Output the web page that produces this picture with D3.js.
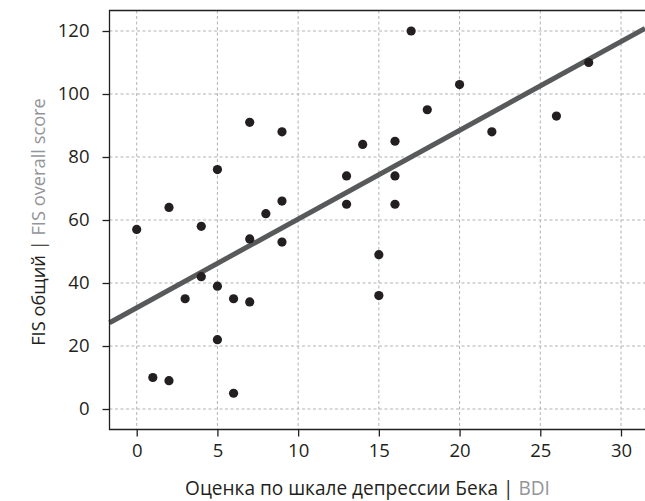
<!DOCTYPE html>
<html>
<head>
<meta charset="utf-8">
<script src="https://cdn.jsdelivr.net/npm/d3@7"></script>
<style>
  body { margin: 0; background: #fff; }
  svg { display: block; font-family: "Open Sans", sans-serif; }
</style>
</head>
<body>
<div id="chart"></div>
<script>
// BDI score vs FIS overall score, one entry per patient
const bdiScores = [0, 1, 2, 2, 3, 4, 4, 5, 5, 5, 6, 6, 7, 7, 7, 8, 9, 9, 9,
                   13, 13, 14, 15, 15, 16, 16, 16, 17, 18, 20, 22, 26, 28];
const fisScores = [57, 10, 64, 9, 35, 58, 42, 76, 39, 22, 35, 5, 91, 54, 34, 62, 88, 66, 53,
                   74, 65, 84, 49, 36, 85, 74, 65, 120, 95, 103, 88, 93, 110];

const xTicks = [0, 5, 10, 15, 20, 25, 30];
const yTicks = [0, 20, 40, 60, 80, 100, 120];

const width = 645;
const height = 501;

const svg = d3.select("#chart")
    .append("svg")
    .attr("width", width)
    .attr("height", height);

// scales: tick 0..30 sits at 136.7..621, 0..120 at 409..31
const x = d3.scaleLinear().domain([0, 30]).range([136.7, 621]);
const y = d3.scaleLinear().domain([0, 120]).range([409, 31]);

// plot box (the right side runs off the picture)
const boxLeft = 109.5, boxRight = 645, boxTop = 10.5, boxBottom = 429.5;

// grid
svg.append("g")
    .selectAll("line")
    .data(xTicks)
    .enter()
    .append("line")
    .attr("x1", d => x(d)).attr("x2", d => x(d))
    .attr("y1", boxTop).attr("y2", boxBottom)
    .attr("stroke", "#b3b3b3")
    .attr("stroke-width", 1)
    .attr("stroke-dasharray", "3,2.5");

svg.append("g")
    .selectAll("line")
    .data(yTicks)
    .enter()
    .append("line")
    .attr("x1", boxLeft).attr("x2", boxRight)
    .attr("y1", d => y(d)).attr("y2", d => y(d))
    .attr("stroke", "#b3b3b3")
    .attr("stroke-width", 1)
    .attr("stroke-dasharray", "3,2.5");

// regression line (least squares fit)
const n = bdiScores.length;
const mx = d3.mean(bdiScores), my = d3.mean(fisScores);
let sxy = 0, sxx = 0;
for (let i = 0; i < n; i++) {
    sxy += (bdiScores[i] - mx) * (fisScores[i] - my);
    sxx += (bdiScores[i] - mx) ** 2;
}
const slope = sxy / sxx;
const intercept = my - slope * mx;
const x0 = x.invert(boxLeft), x1 = x.invert(boxRight);

svg.append("line")
    .attr("x1", x(x0)).attr("y1", y(intercept + slope * x0))
    .attr("x2", x(x1)).attr("y2", y(intercept + slope * x1))
    .attr("stroke", "#58595b")
    .attr("stroke-width", 5);

// points
svg.append("g")
    .selectAll("circle")
    .data(bdiScores)
    .enter()
    .append("circle")
    .attr("cx", d => x(d))
    .attr("cy", (d, i) => y(fisScores[i]))
    .attr("r", 4.6)
    .attr("fill", "#231f20");

// frame: left, top, bottom
svg.append("path")
    .attr("d", `M${boxRight},${boxTop}H${boxLeft}V${boxBottom}H${boxRight}`)
    .attr("fill", "none")
    .attr("stroke", "#231f20")
    .attr("stroke-width", 1.3);

// x axis
const xAxis = svg.append("g")
    .attr("transform", `translate(0,${boxBottom})`)
    .call(d3.axisBottom(x).tickValues(xTicks).tickSize(7).tickPadding(7));
xAxis.select(".domain").remove();
xAxis.selectAll("line").attr("stroke", "#231f20").attr("stroke-width", 1.3);
xAxis.selectAll("text")
    .attr("fill", "#231f20")
    .style("font-family", "'Open Sans', sans-serif")
    .style("font-size", "18.5px");

// y axis
const yAxis = svg.append("g")
    .attr("transform", `translate(${boxLeft},0)`)
    .call(d3.axisLeft(y).tickValues(yTicks).tickSize(7).tickPadding(13));
yAxis.select(".domain").remove();
yAxis.selectAll("line").attr("stroke", "#231f20").attr("stroke-width", 1.3);
yAxis.selectAll("text")
    .attr("fill", "#231f20")
    .style("font-family", "'Open Sans', sans-serif")
    .style("font-size", "18.5px");

// shrink or grow a title so it spans the same width as in the original
function fitWidth(sel, target) {
    const w = sel.node().getComputedTextLength();
    const size = parseFloat(sel.style("font-size"));
    sel.style("font-size", (size * target / w) + "px");
}

// axis titles
const xTitle = svg.append("text")
    .attr("x", 367.5)
    .attr("y", 495)
    .attr("text-anchor", "middle")
    .style("font-size", "17px")
    .attr("fill", "#231f20");
xTitle.append("tspan").text("Оценка по шкале депрессии Бека | ");
xTitle.append("tspan").attr("fill", "#939598").text("BDI");
fitWidth(xTitle, 365);

const yTitle = svg.append("text")
    .attr("transform", "translate(44.5,222) rotate(-90)")
    .attr("text-anchor", "middle")
    .style("font-size", "17px")
    .attr("fill", "#231f20");
yTitle.append("tspan").text("FIS общий | ");
yTitle.append("tspan").attr("fill", "#939598").text("FIS overall score");
fitWidth(yTitle, 248);
</script>
</body>
</html>
